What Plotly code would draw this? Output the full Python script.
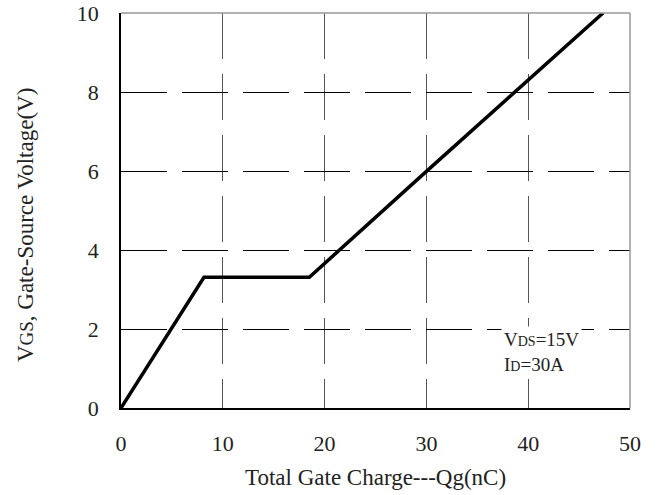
import plotly.graph_objects as go

qg = [0, 8.15, 18.5, 30.0, 47.35]
vgs = [0, 3.31, 3.31, 5.99, 10.0]
x_ticks = [0, 10, 20, 30, 40, 50]
y_ticks = [0, 2, 4, 6, 8, 10]

FONT = "Liberation Serif"
TXT = "#222"

fig = go.Figure()
fig.add_trace(go.Scatter(x=qg, y=vgs, mode="lines",
                         line=dict(color="black", width=3.5), showlegend=False))

fig.update_layout(
    width=657, height=495,
    margin=dict(l=121, r=27, t=13, b=87),
    paper_bgcolor="white", plot_bgcolor="white",
    font=dict(family=FONT, size=22, color=TXT),
    xaxis=dict(range=[0, 50], tickvals=x_ticks, showline=True, linecolor="black", linewidth=1.5,
               showgrid=True, gridcolor="#555", gridwidth=1, griddash="46px,15px",
               zeroline=False, ticks="", ticklabelstandoff=15, automargin=False,
               tickfont=dict(size=22)),
    yaxis=dict(range=[0, 10], tickvals=y_ticks, showline=True, linecolor="black", linewidth=1.5,
               showgrid=True, gridcolor="black", gridwidth=1, griddash="46px,15px",
               zeroline=False, ticks="", ticklabelstandoff=16, automargin=False,
               tickfont=dict(size=22)),
)

fig.add_shape(type="line", xref="paper", yref="paper", x0=0, x1=1, y0=1, y1=1,
              line=dict(color="#999", width=1.5))
fig.add_shape(type="line", xref="paper", yref="paper", x0=1, x1=1, y0=0, y1=1,
              line=dict(color="#999", width=1.5))

# axis titles
fig.add_annotation(text="Total Gate Charge---Qg(nC)", xref="paper", yref="paper",
                   x=0.5, y=-0.177, xanchor="center", yanchor="middle", showarrow=False,
                   font=dict(size=23, color=TXT))
fig.add_annotation(text="V<span style='font-size:19px'>GS</span>, Gate-Source Voltage(V)",
                   xref="paper", yref="paper", x=-0.1886, y=0.463, textangle=-90,
                   xanchor="center", yanchor="middle", showarrow=False,
                   font=dict(size=23, color=TXT))

fig.add_annotation(x=37.3, y=1.42, xref="x", yref="y", xanchor="left", showarrow=False,
                   align="left", bgcolor="white", borderpad=2,
                   text="V<span style='font-size:14px'>DS</span>=15V<br>I<span style='font-size:14px'>D</span>=30A",
                   font=dict(size=19, color=TXT))

fig.write_html("out.html", config={"displayModeBar": False},
               post_script="document.body.style.margin='0';")
